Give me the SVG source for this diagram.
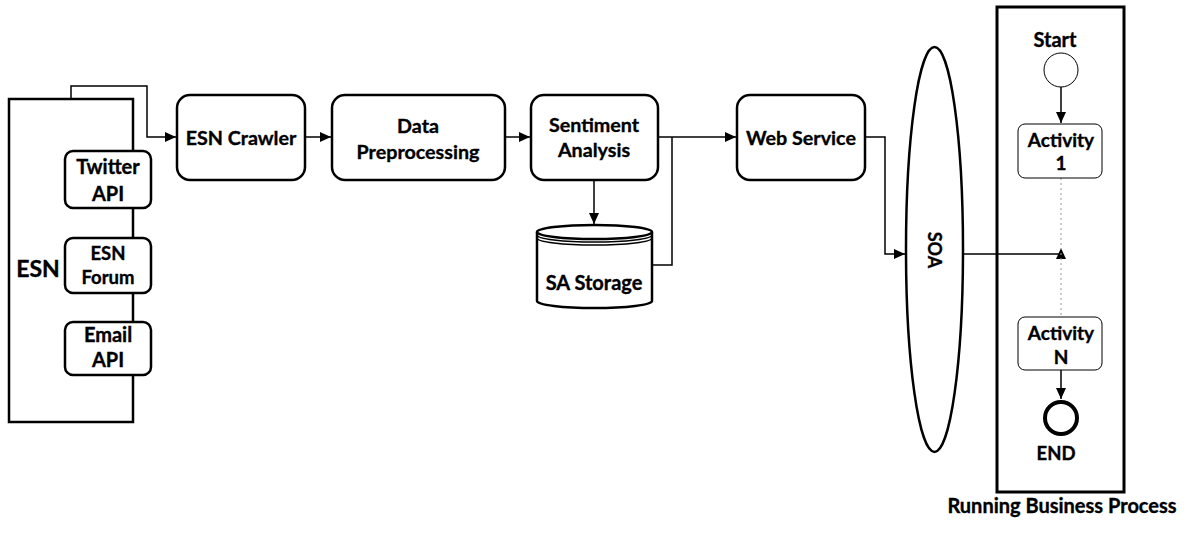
<svg xmlns="http://www.w3.org/2000/svg" width="1188" height="533" viewBox="0 0 1188 533">
<style>
text{font-family:Lato,"Liberation Sans",sans-serif;font-weight:bold;fill:#000;stroke:#000;stroke-width:0.35;text-anchor:middle}
.box{fill:#fff;stroke:#000;stroke-width:2.5}
.thin{fill:#fff;stroke:#000;stroke-width:1}
.conn{fill:none;stroke:#000;stroke-width:1.5}
.t19{font-size:19.7px}
.t20{font-size:20px}
</style>
<defs>
<marker id="arr" markerUnits="userSpaceOnUse" markerWidth="12" markerHeight="10" refX="11" refY="5" orient="auto">
<path d="M0,0 L11,5 L0,10 Z" fill="#000"/>
</marker>
</defs>
<g id="connectors">
<path class="conn" d="M71,99 V86 H147 V137 H176" marker-end="url(#arr)"/>
<path class="conn" d="M305,137 H331" marker-end="url(#arr)"/>
<path class="conn" d="M505,137 H530" marker-end="url(#arr)"/>
<path class="conn" d="M658,137 H736" marker-end="url(#arr)"/>
<path class="conn" d="M594,180 V224" marker-end="url(#arr)"/>
<path class="conn" d="M652,265 H672 V137"/>
<path class="conn" d="M865,137 H885 V254 H905" marker-end="url(#arr)"/>
<path class="conn" d="M963,254 H1061"/>
<polygon points="1061,248 1056,259 1066,259" fill="#000"/>
<path class="conn" d="M1061,87 V123" marker-end="url(#arr)"/>
<path d="M1061,178 V316" fill="none" stroke="#999" stroke-width="1" stroke-dasharray="2,3"/>
<path class="conn" d="M1061,370 V399" marker-end="url(#arr)"/>
</g>
<g id="esn">
<rect class="box" x="9" y="99" width="124" height="323" fill="#fff"/>
<text x="38" y="277" font-size="23">ESN</text>
</g>
<g id="twitter">
<rect class="box" x="65" y="151" width="86" height="57" rx="8"/>
<text class="t20" x="108" y="174">Twitter</text>
<text class="t20" x="108" y="201">API</text>
</g>
<g id="forum">
<rect class="box" x="65" y="238" width="86" height="55" rx="8"/>
<text x="108" y="260" font-size="18.5">ESN</text>
<text x="108" y="284" font-size="18.5">Forum</text>
</g>
<g id="email">
<rect class="box" x="65" y="322" width="86" height="53" rx="8"/>
<text class="t20" x="108" y="342">Email</text>
<text class="t20" x="108" y="367">API</text>
</g>
<g id="crawler">
<rect class="box" x="177" y="95" width="128" height="85" rx="13"/>
<text class="t19" x="241" y="145">ESN Crawler</text>
</g>
<g id="preprocessing">
<rect class="box" x="332" y="95" width="173" height="85" rx="13"/>
<text class="t19" x="418" y="133">Data</text>
<text class="t19" x="418" y="159">Preprocessing</text>
</g>
<g id="sentiment">
<rect class="box" x="531" y="95" width="127" height="85" rx="13"/>
<text class="t19" x="594" y="132">Sentiment</text>
<text class="t19" x="594" y="157">Analysis</text>
</g>
<g id="storage">
<path class="box" d="M537,232 V301 A57.5,7 0 0 0 652,301 V232"/>
<ellipse class="box" cx="594.5" cy="232" rx="57.5" ry="7"/>
<path class="conn" d="M537,235 A57.5,7 0 0 0 652,235" stroke-width="2"/>
<path class="conn" d="M537,238 A57.5,7 0 0 0 652,238" stroke-width="2"/>
<text x="594" y="290" font-size="20">SA Storage</text>
</g>
<g id="webservice">
<rect class="box" x="737" y="95" width="128" height="85" rx="13"/>
<text class="t19" x="801" y="145">Web Service</text>
</g>
<g id="soa">
<ellipse class="box" cx="934.5" cy="249.5" rx="28.5" ry="202.5" fill="none" stroke-width="3"/>
<text x="0" y="0" font-size="18" transform="translate(928,250) rotate(90)">SOA</text>
</g>
<g id="process">
<rect x="997" y="7" width="127" height="485" fill="none" stroke="#000" stroke-width="3"/>
<text x="1062" y="513" font-size="20">Running Business Process</text>
</g>
<g id="start">
<circle class="thin" cx="1061" cy="70" r="17"/>
<text x="1055" y="47" font-size="20">Start</text>
</g>
<g id="activity1">
<rect class="thin" x="1018" y="124" width="84" height="54" rx="7"/>
<text x="1061" y="147" font-size="19">Activity</text>
<text x="1061" y="170" font-size="19">1</text>
</g>
<g id="activityN">
<rect class="thin" x="1018" y="317" width="84" height="53" rx="7"/>
<text x="1061" y="340" font-size="19">Activity</text>
<text x="1061" y="364" font-size="19">N</text>
</g>
<g id="end">
<circle cx="1061" cy="418" r="16" fill="#fff" stroke="#000" stroke-width="4"/>
<text x="1056" y="460" font-size="18.5">END</text>
</g>
</svg>
